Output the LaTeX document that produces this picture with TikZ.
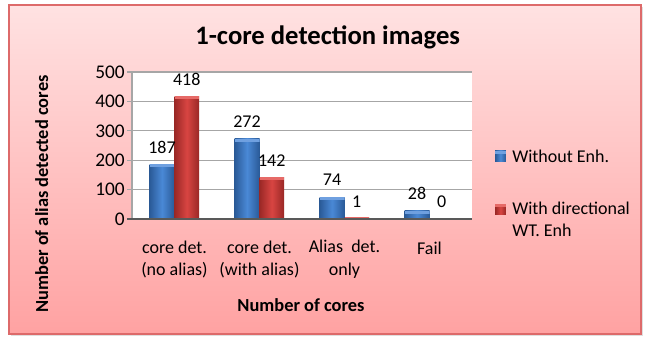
\documentclass[tikz,border=0pt]{standalone}
\usepackage{fontspec}
\setmainfont{Carlito}
\definecolor{bgtop}{HTML}{FFE2E2}
\definecolor{bgbottom}{HTML}{FFA2A2}
\definecolor{frameline}{HTML}{DD6A6A}
\definecolor{gridgray}{HTML}{A6A6A6}
\definecolor{blueside}{HTML}{2A5A97}
\definecolor{bluemid}{HTML}{4A89D6}
\definecolor{bluecap}{HTML}{6FA0E0}
\definecolor{redside}{HTML}{9A2826}
\definecolor{redmid}{HTML}{D84542}
\definecolor{redcap}{HTML}{E66A67}
\begin{document}
\begin{tikzpicture}[
        x=0.75pt, y=0.75pt,
        label/.style={font=\fontsize{13.5}{17}\selectfont, align=center, inner sep=0pt},
        axtitle/.style={font=\fontsize{13.8}{17}\selectfont\bfseries, inner sep=0pt},
        ticklabel/.style={font=\fontsize{14.5}{17}\selectfont, anchor=east, inner sep=0pt},
        grid/.style={draw=gridgray, line width=1pt},
        barblue/.style={left color=blueside, right color=blueside, middle color=bluemid,
            path picture={\fill[bluecap] (path picture bounding box.north west) rectangle ([yshift=-2.2pt]path picture bounding box.north east);}},
        barred/.style={left color=redside, right color=redside, middle color=redmid,
            path picture={\fill[redcap] (path picture bounding box.north west) rectangle ([yshift=-2.2pt]path picture bounding box.north east);}},
        key/.style={minimum size=8pt, inner sep=0pt}
    ]
        \useasboundingbox (0,0) rectangle (645,343);
        % chart area with shadow
        \fill[gray!25] (11,7) rectangle (643,336);
        \path[top color=bgtop, bottom color=bgbottom, draw=frameline, line width=1pt] (9,9) rectangle (641,338);
        \node[font=\fontsize{20}{24}\selectfont\bfseries, anchor=base, inner sep=0pt] (title) at (327.7,298.7) {1-core detection images};

        % plot area
        \fill[white] (132,124) rectangle (472,271);
        \draw[grid] (127,153.4) -- (472,153.4);
        \draw[grid] (127,182.8) -- (472,182.8);
        \draw[grid] (127,212.2) -- (472,212.2);
        \draw[grid] (127,241.6) -- (472,241.6);
        \draw[grid] (127,271) -- (472,271);
        \draw[grid] (132,124) -- (132,271);
        \node[ticklabel] (t0) at (125,124) {0};
        \node[ticklabel] (t100) at (125,153.4) {100};
        \node[ticklabel] (t200) at (125,182.8) {200};
        \node[ticklabel] (t300) at (125,212.2) {300};
        \node[ticklabel] (t400) at (125,241.6) {400};
        \node[ticklabel] (t500) at (125,271) {500};

        % bars
        \path[barblue] (149.5,124) rectangle (174.5,179.0);
        \path[barred] (174.5,124) rectangle (199,246.9);
        \path[barblue] (234.5,124) rectangle (259.5,204.0);
        \path[barred] (259.5,124) rectangle (284,165.7);
        \path[barblue] (319.5,124) rectangle (344.5,145.8);
        \path[barred] (344.5,124) rectangle (369,126);
        \path[barblue] (404.5,124) rectangle (429.5,132.2);
        \draw[gray!70!black, line width=1.5pt] (127,124) -- (472,124);

        % data labels
        \node[label] (v187) at (162,196) {187};
        \node[label] (v418) at (186.8,264) {418};
        \node[label] (v272) at (247,221) {272};
        \node[label] (v142) at (271.8,182.7) {142};
        \node[label] (v74) at (332,162.8) {74};
        \node[label] (v1) at (356.8,141.5) {1};
        \node[label] (v28) at (417,149.5) {28};
        \node[label] (v0) at (441.8,141.5) {0};

        % categories
        \node[label] (noalias) at (174.5,83.6) {core det.\\(no alias)};
        \node[label] (withalias) at (259.5,83.6) {core det.\\(with alias)};
        \node[label] (aliasonly) at (344.5,83.6) {Alias\ \ det.\\only};
        \node[label] (fail) at (429.5,95) {Fail};
        \node[axtitle] (xtitle) at (301,38) {Number of cores};
        \node[axtitle, rotate=90] (ytitle) at (41.7,149) {Number of alias detected cores};

        % legend
        \node[key, barblue] (kblue) at (500.5,187) {};
        \node[label, anchor=west] (lblue) at (512,186.5) {Without Enh.};
        \node[key, barred] (kred) at (500.5,133.5) {};
        \node[label, anchor=west, align=left, font=\fontsize{13.5}{16.5}\selectfont] (lred) at (512,124) {With directional\\WT. Enh};
    \end{tikzpicture}
\end{document}
